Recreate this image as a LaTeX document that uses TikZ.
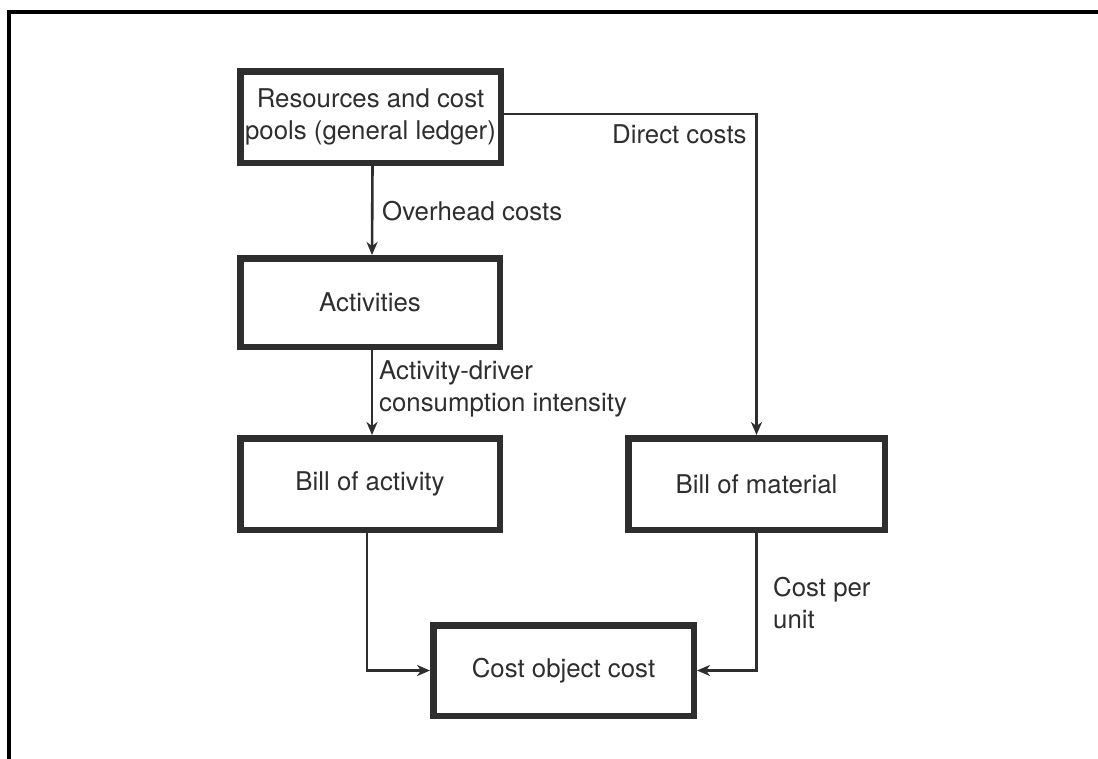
\documentclass[tikz,border=0pt]{standalone}
\usepackage{fontspec}
\setmainfont{TeX Gyre Heros}
\usetikzlibrary{arrows.meta}
\definecolor{ink}{HTML}{2E2E2E}
\begin{document}
\begin{tikzpicture}[x=1pt,y=-1pt,
  blk/.style={draw=ink, line width=6.5pt, rectangle, inner sep=0pt, text=ink,
    align=center, font=\fontsize{25.8}{32}\selectfont},
  flow/.style={draw=ink, line width=2.6pt, line join=miter,
    -{Stealth[length=13pt,width=11pt,inset=4pt]}},
  lbl/.style={text=ink, inner sep=0pt, align=left, font=\fontsize{25.8}{32}\selectfont}]
\useasboundingbox (0,0) rectangle (1098,758);
\fill[white] (0,0) rectangle (1098,758);
% page frame (top and left rules)
\draw[line width=3.5pt, black, line join=miter] (9,770) -- (9,12) -- (1110,12);

% boxes
\node[blk, minimum width=260.5pt, minimum height=91.5pt] (res) at (370.5,117)
  {Resources and cost\\pools (general ledger)};
\node[blk, minimum width=259.5pt, minimum height=88.5pt] (act) at (370,302.5) {Activities};
\node[blk, minimum width=259.5pt, minimum height=91.5pt] (boa) at (370,484) {Bill of activity};
\node[blk, minimum width=256.5pt, minimum height=91.5pt] (bom) at (756.5,484) {Bill of material};
\node[blk, minimum width=260.5pt, minimum height=90.5pt] (coc) at (563.5,670.5) {Cost object cost};

% connectors
\draw[flow] ([xshift=2pt]res.south) -- ([xshift=2pt]act.north);
\draw[flow] ([xshift=2pt]act.south) -- ([xshift=2pt]boa.north);
\draw[flow] ([yshift=3pt]res.east) -| (bom.north);
\draw[flow] (bom.south) |- (coc.east);
\draw[flow] ([xshift=-3pt]boa.south) |- (coc.west);

% connector labels
\node[lbl, anchor=base west] (lov) at (382,220) {Overhead costs};
\node[lbl, anchor=base west] (ldc) at (612,143) {Direct costs};
\node[lbl, anchor=west] (lad) at (379,389) {Activity-driver\\consumption intensity};
\node[lbl, anchor=west] (lcu) at (773,603) {Cost per\\unit};
\end{tikzpicture}
\end{document}
